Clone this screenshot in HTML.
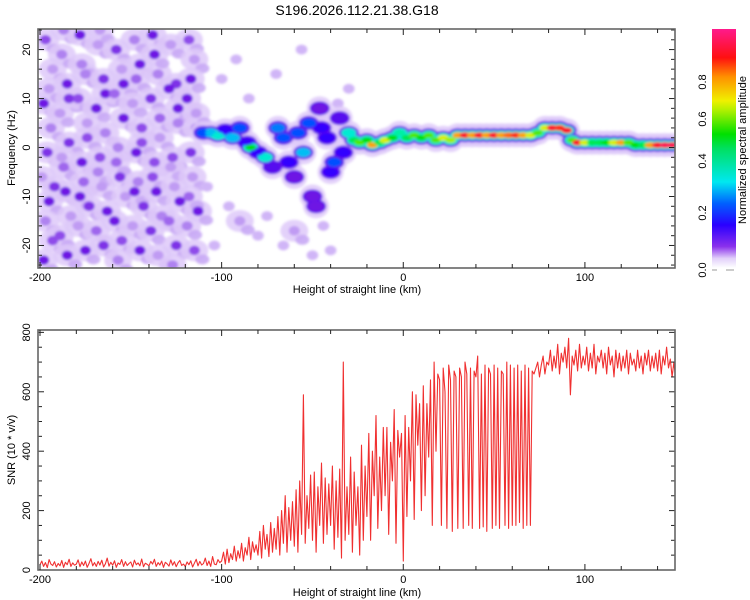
<!DOCTYPE html>
<html><head><meta charset="utf-8">
<style>
body{margin:0;background:#fff;}
svg{display:block;font-family:"Liberation Sans",sans-serif;}
</style></head>
<body>
<svg id="chart" width="750" height="600" viewBox="0 0 750 600" xmlns="http://www.w3.org/2000/svg">
<defs>
<filter id="soft" x="-10%" y="-10%" width="120%" height="120%"><feGaussianBlur stdDeviation="1.3"/></filter>
<clipPath id="clipTop"><rect x="38" y="29" width="637" height="239"/></clipPath>
<clipPath id="clipBot"><rect x="38" y="330" width="637" height="240"/></clipPath>
<linearGradient id="cbar" x1="0" y1="1" x2="0" y2="0">
<stop offset="0" stop-color="#ffffff"/>
<stop offset="0.04" stop-color="#e2d0fa"/>
<stop offset="0.09" stop-color="#8a30ec"/>
<stop offset="0.18" stop-color="#2a00ff"/>
<stop offset="0.27" stop-color="#0060ff"/>
<stop offset="0.36" stop-color="#00e8f0"/>
<stop offset="0.5" stop-color="#00e060"/>
<stop offset="0.56" stop-color="#00e000"/>
<stop offset="0.66" stop-color="#b0f000"/>
<stop offset="0.7" stop-color="#f0f000"/>
<stop offset="0.8" stop-color="#ff9000"/>
<stop offset="0.88" stop-color="#ff1010"/>
<stop offset="1" stop-color="#ff1a8c"/>
</linearGradient>
</defs>
<text x="357" y="15" font-size="14" text-anchor="middle">S196.2026.112.21.38.G18</text>
<g id="top"></g>
<g id="bot"></g>
<g id="cb"></g>
</svg>
<script>
// ---- SNR data (km start / step, values)
const snrStart = -200;
const snrStep = 1;
const snrValues = [
18,30,12,25,8,35,20,15,28,10, 22,14,32,9,26,18,36,12,24,16,
20,34,11,27,15,30,9,22,38,14, 25,12,29,17,33,10,21,40,13,26,
16,31,9,24,19,35,12,28,15,22, 27,10,33,18,24,14,37,11,23,19,
14,29,20,36,12,25,17,30,9,26, 21,13,34,16,28,11,24,32,15,20,
12,27,18,31,10,23,36,14,29,17,
22,40,15,30,12,45,20,18,35,25,
30,60,20,70,25,55,35,80,30,65,
40,90,30,75,50,110,35,95,60,85,
50,130,40,150,70,120,45,160,60,140,
70,180,50,200,90,250,60,210,100,230,
80,270,60,300,120,590,90,250,140,320,
100,330,60,280,150,360,90,310,120,290,
150,350,70,300,110,340,40,700,100,280,
120,380,60,330,150,280,50,420,100,350,
180,460,100,400,250,520,140,380,200,480,
250,480,120,430,300,540,90,470,380,460,
30,520,180,480,300,600,170,590,420,560,
200,620,250,560,380,640,150,700,400,660,
640,150,680,600,140,690,640,130,670,650,
140,680,650,140,700,660,150,680,140,670,
650,720,140,660,145,690,130,680,660,140,
690,150,680,140,670,660,150,700,140,690,
150,680,150,690,160,670,140,690,150,680,
150,670,660,680,700,650,690,720,660,700,
690,740,670,720,680,760,660,730,700,750,
680,780,590,720,690,740,670,760,680,720,
690,750,670,730,680,760,660,720,700,740,
680,730,660,750,690,720,650,740,680,730,
670,720,680,740,660,730,690,710,670,740,
680,720,660,730,690,740,670,720,680,730,
670,740,660,720,690,750,680,710,650,700,640
];
// ---- Spectrogram ridge (km, Hz, amplitude)
const ridgeX = [-110,-106,-102,-98,-94,-90,-86,-84,-80,-76,-72,-69,-66,-63,-60,-58,-55,-52,-50,-48,-46,-45,-42,-40,-38,-35,-33,-30,-27,-24,-20,-17,-13,-10,-6,-2,2,6,10,14,18,22,26,30,34,38,42,46,50,54,58,62,66,70,74,78,82,86,90,93,96,100,104,108,112,116,120,124,128,132,136,140,144,148];
const ridgeY = [3,3,2.5,3.5,2,4,1,0,-1,-2,-4,4,2,-3,-6,3,-1,5,-10,-12,8,4,2,-5,-3,6,-1,3,1.5,1,1.5,0.5,1,1.5,2,3,2,2.5,2,2.5,1.5,2,1.5,2.5,2.5,2.5,2.5,2.5,2.5,2.5,2.5,2.5,2.5,2.5,3,4,4,4,3.5,1.5,1,1,1,1,1,1,1,1,0.5,0.5,0.5,0.5,0.5,0.5];
const ridgeA = [0.2,0.25,0.3,0.15,0.25,0.2,0.15,0.45,0.15,0.3,0.12,0.22,0.2,0.15,0.1,0.2,0.25,0.2,0.1,0.1,0.1,0.15,0.15,0.15,0.2,0.12,0.15,0.3,0.4,0.5,0.45,0.7,0.4,0.6,0.45,0.35,0.4,0.5,0.45,0.5,0.5,0.6,0.55,0.7,0.85,0.7,0.85,0.7,0.85,0.7,0.75,0.8,0.7,0.6,0.5,0.6,0.85,0.8,0.85,0.5,0.85,0.6,0.4,0.4,0.45,0.6,0.7,0.5,0.45,0.4,0.7,0.85,0.9,0.9];
// ---- Background noise blobs (km, Hz, amplitude)
const noiseX = [-197,-193,-198,-194,-196,-199,-195,-197,-193,-198,-195,-192,
-188,-185,-189,-184,-187,-186,-183,-189,-185,-187,-184,-188,
-178,-175,-179,-174,-177,-176,-173,-179,-175,-177,-174,-178,
-168,-165,-169,-164,-167,-166,-163,-169,-165,-167,-164,-168,
-158,-155,-159,-154,-157,-156,-153,-159,-155,-157,-154,-158,
-148,-145,-149,-144,-147,-146,-143,-149,-145,-147,-144,-148,
-138,-135,-139,-134,-137,-136,-133,-139,-135,-137,-134,-138,
-128,-125,-129,-124,-127,-126,-123,-129,-125,-127,-124,-128,
-118,-115,-119,-114,-117,-116,-113,-119,-115,-117,-114,-118,
-108,-96,-90,-80,-75,-66,-60,-50,-44,-36,-30,-100,-92,-70,-56,-40,-85,-104];
const noiseY = [22,16,9,4,-1,-6,-11,-15,-19,-23,12,-8,
19,13,7,1,-4,-9,-14,-18,-22,24,10,-2,
23,15,10,5,-3,-7,-12,-16,-21,17,2,-10,
21,14,8,3,-2,-8,-13,-17,-20,24,11,-5,
20,16,11,6,0,-6,-10,-15,-19,-23,13,-3,
22,17,9,4,-1,-7,-12,-16,-21,14,1,-9,
23,15,10,2,-3,-9,-14,-17,-22,19,6,-6,
21,13,12,5,-2,-8,-11,-15,-20,-24,8,-4,
22,18,10,4,-1,-6,-13,-16,-21,14,7,-10,
-8,-12,-15,-18,-14,-20,-17,-22,-16,9,12,14,18,15,20,-21,10,-20];
const noiseA = [0.08,0.05,0.1,0.06,0.09,0.05,0.1,0.06,0.08,0.1,0.05,0.09,
0.06,0.1,0.05,0.09,0.07,0.1,0.05,0.08,0.1,0.06,0.09,0.05,
0.1,0.06,0.08,0.05,0.1,0.07,0.09,0.05,0.1,0.06,0.08,0.1,
0.05,0.09,0.1,0.06,0.08,0.05,0.1,0.07,0.09,0.05,0.1,0.06,
0.09,0.05,0.07,0.1,0.06,0.09,0.05,0.1,0.08,0.06,0.1,0.07,
0.06,0.1,0.05,0.08,0.1,0.06,0.09,0.05,0.1,0.07,0.08,0.1,
0.1,0.06,0.09,0.05,0.08,0.1,0.06,0.09,0.05,0.1,0.07,0.08,
0.05,0.09,0.1,0.06,0.08,0.05,0.1,0.07,0.09,0.06,0.1,0.05,
0.08,0.05,0.1,0.06,0.09,0.05,0.1,0.06,0.08,0.1,0.05,0.07,
0.04,0.04,0.05,0.04,0.04,0.04,0.05,0.04,0.04,0.04,0.04,0.04,0.04,0.04,0.04,0.04,0.04,0.04];
const xTicks = [-200,-100,0,100];
const fTicks = [-20,-10,0,10,20];
const snrTicks = [0,200,400,600,800];
const cbTicks = ["0.0","0.2","0.4","0.6","0.8"];

const NS = "http://www.w3.org/2000/svg";
function mk(tag, attrs, parent){const e=document.createElementNS(NS,tag);for(const k in attrs)e.setAttribute(k,attrs[k]);parent.appendChild(e);return e;}
const X0=38,X1=675, kmMin=-201.1, kmMax=149.6;
const xs = v => X0 + (v-kmMin)/(kmMax-kmMin)*(X1-X0);
const T0=29,T1=268, fMax=24.2, fMin=-24.6;
const ys = v => T0 + (fMax-v)/(fMax-fMin)*(T1-T0);
const B0=330,B1=570, sMax=808;
const ysnr = v => B1 - v/sMax*(B1-B0);

// colormap
const cstops=[[0,[255,255,255]],[0.03,[225,206,250]],[0.06,[175,130,240]],[0.1,[110,20,228]],[0.15,[51,0,255]],[0.2,[0,80,255]],[0.27,[0,232,240]],[0.35,[0,240,160]],[0.45,[0,224,0]],[0.55,[160,240,0]],[0.62,[240,240,0]],[0.72,[255,144,0]],[0.82,[255,16,16]],[0.97,[255,16,144]]];
function cmap(a){for(let i=1;i<cstops.length;i++){if(a<=cstops[i][0]){const[t0,c0]=cstops[i-1],[t1,c1]=cstops[i];const f=(a-t0)/(t1-t0);return "rgb("+c0.map((c,j)=>Math.round(c+(c1[j]-c)*f)).join(",")+")";}}return "rgb(255,16,144)";}

// ---- top panel
const topG=document.getElementById('top');
const heat=mk('g',{'clip-path':'url(#clipTop)',filter:'url(#soft)'},topG);


for(let i=0;i<noiseX.length;i++){
  const cx=xs(noiseX[i]),cy=ys(noiseY[i]),big=noiseA[i]>0.045;
  const h=mk('ellipse',{cx:cx,cy:cy,rx:big?14:6,ry:big?11:5,fill:cmap(0.032),opacity:0.85},heat);
  
  
  if(big){
    const h2=mk('ellipse',{cx:cx+8,cy:cy+9,rx:7,ry:5,fill:cmap(0.045),opacity:0.9},heat);
    
    
  }
}
for(let i=0;i<noiseX.length;i++){
  const cx=xs(noiseX[i]),cy=ys(noiseY[i]);
  const e=mk('ellipse',{cx:cx,cy:cy,rx:5.5,ry:4.8,fill:cmap(noiseA[i])},heat);
  
  
}
for(let i=0;i<ridgeX.length;i++){
  const cx=xs(ridgeX[i]),cy=ys(ridgeY[i]);
  const h=mk('ellipse',{cx:cx,cy:cy,rx:13,ry:12,fill:cmap(0.032),opacity:0.85},heat);
  
  
}
for(let i=0;i<ridgeX.length;i++){
  const cx=xs(ridgeX[i]),cy=ys(ridgeY[i]);
  const m=mk('ellipse',{cx:cx,cy:cy,rx:10,ry:7,fill:cmap(0.11)},heat);
  
  
}
for(let i=0;i<ridgeX.length;i++){
  const cx=xs(ridgeX[i]),cy=ys(ridgeY[i]),a=ridgeA[i];
  const m=mk('ellipse',{cx:cx,cy:cy,rx:7.5,ry:4.8,fill:cmap(Math.min(a,0.3))},heat);
  
  
}
for(let i=0;i<ridgeX.length;i++){
  const cx=xs(ridgeX[i]),cy=ys(ridgeY[i]),a=ridgeA[i];
  const c=mk('ellipse',{cx:cx,cy:cy,rx:5.5,ry:3,fill:cmap(a)},heat);
  
  
}
function frame(parent,y0,y1,name){
  const r=mk('rect',{x:X0,y:y0,width:X1-X0,height:y1-y0,fill:'none',stroke:'#666','stroke-width':1.6},parent);
  
  
}
function xaxis(parent,y0,y1,labelY,titleY){
  for(let v=-200;v<=140;v+=20){
    const major=xTicks.includes(v),L=major?6:4;
    mk('line',{x1:xs(v),x2:xs(v),y1:y1,y2:y1-L,stroke:'#222','stroke-width':1},parent);
    mk('line',{x1:xs(v),x2:xs(v),y1:y0,y2:y0+L,stroke:'#222','stroke-width':1},parent);
  }
  xTicks.forEach(v=>{const t=mk('text',{x:xs(v),y:labelY,'font-size':11,'text-anchor':'middle'},parent);t.textContent=v;
    });
  const tt=mk('text',{x:357,y:titleY,'font-size':11,'text-anchor':'middle'},parent);tt.textContent='Height of straight line (km)';
  
}
// top axes
for(let v=-24;v<=24;v+=2){
  const major=fTicks.includes(v),L=major?6:4;
  mk('line',{x1:X0,x2:X0+L,y1:ys(v),y2:ys(v),stroke:'#222'},topG);
  mk('line',{x1:X1,x2:X1-L,y1:ys(v),y2:ys(v),stroke:'#222'},topG);
}
fTicks.forEach(v=>{const t=mk('text',{x:0,y:0,'font-size':11,'text-anchor':'middle',transform:`translate(30,${ys(v)}) rotate(-90)`},topG);t.textContent=v;
  });
const fy=mk('text',{x:0,y:0,'font-size':11,'text-anchor':'middle',transform:'translate(15,148) rotate(-90)'},topG);fy.textContent='Frequency (Hz)';

frame(topG,T0,T1,'spectrogram-frame');
xaxis(topG,T0,T1,281,293);

// ---- bottom panel
const bot=document.getElementById('bot');
let d='';
snrValues.forEach((v,i)=>{d+=(i?'L':'M')+xs(snrStart+i*snrStep).toFixed(1)+','+ysnr(v).toFixed(1);});
const line=mk('path',{d:d,fill:'none',stroke:'#f03030','stroke-width':1.1,'clip-path':'url(#clipBot)','stroke-linejoin':'round'},bot);


for(let v=0;v<=800;v+=50){
  const major=snrTicks.includes(v),L=major?6:4;
  mk('line',{x1:X0,x2:X0+L,y1:ysnr(v),y2:ysnr(v),stroke:'#222'},bot);
  mk('line',{x1:X1,x2:X1-L,y1:ysnr(v),y2:ysnr(v),stroke:'#222'},bot);
}
snrTicks.forEach(v=>{const t=mk('text',{x:0,y:0,'font-size':11,'text-anchor':'middle',transform:`translate(30,${ysnr(v)}) rotate(-90)`},bot);t.textContent=v;
  });
const sy=mk('text',{x:0,y:0,'font-size':11,'text-anchor':'middle',transform:'translate(15,450) rotate(-90)'},bot);sy.textContent='SNR (10 * v/v)';

frame(bot,B0,B1,'snr-frame');
xaxis(bot,B0,B1,583,596);

// ---- colorbar
const cb=document.getElementById('cb');
const cbr=mk('rect',{x:712,y:29,width:24,height:239,fill:'url(#cbar)'},cb);


mk('line',{x1:712,x2:717,y1:270,y2:270,stroke:'#999'},cb);
mk('line',{x1:726,x2:734,y1:270,y2:270,stroke:'#999'},cb);
const cbY=[270,213,161,119,82];
cbTicks.forEach((s,i)=>{const t=mk('text',{x:0,y:0,'font-size':11,'text-anchor':'middle',transform:`translate(706,${cbY[i]}) rotate(-90)`},cb);t.textContent=s;
  });
const ct=mk('text',{x:0,y:0,'font-size':11,'text-anchor':'middle',transform:'translate(746,150) rotate(-90)'},cb);ct.textContent='Normalized spectral amplitude';

</script>
</body></html>
